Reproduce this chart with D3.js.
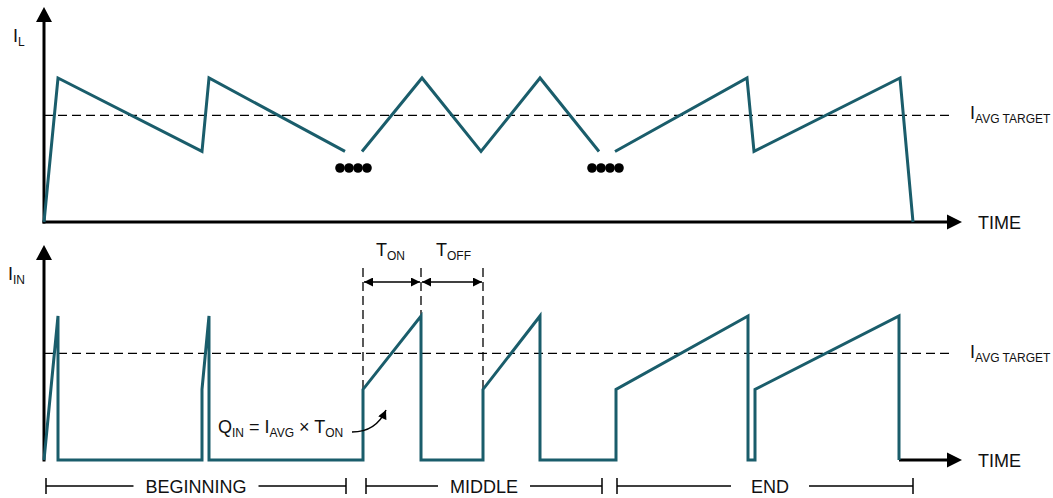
<!DOCTYPE html>
<html>
<head>
<meta charset="utf-8">
<script src="https://cdn.jsdelivr.net/npm/d3@7/dist/d3.min.js"></script>
<style>
  html, body { margin: 0; padding: 0; background: #fff; }
  svg { display: block; }
  text { font-family: "Liberation Sans", Arial, Helvetica, sans-serif; fill: #111; }
</style>
</head>
<body>
<svg id="chart" width="1053" height="498"></svg>
<script>
// ---- Data (time in arbitrary units, current normalised to peak = 1) ----
// Inductor current I_L: three segments, separated by "…" breaks
const ilSegments = [
  [[0, 0], [1.4, 1.0], [15.8, 0.49], [16.5, 1.0], [30.1, 0.49]],
  [[31.8, 0.49], [37.8, 1.0], [43.7, 0.49], [49.6, 1.0], [55.5, 0.49]],
  [[57.1, 0.49], [70.3, 1.0], [71.0, 0.49], [85.6, 1.0], [86.9, 0]]
];
// Input current I_IN
const iinPoints = [
  [0, 0], [1.4, 1.0], [1.4, 0], [15.8, 0], [15.8, 0.49], [16.5, 1.0], [16.5, 0],
  [31.9, 0], [31.9, 0.49], [37.7, 1.0], [37.7, 0],
  [43.9, 0], [43.9, 0.49], [49.6, 1.0], [49.6, 0],
  [57.2, 0], [57.2, 0.49], [70.4, 1.0], [70.4, 0],
  [71.1, 0], [71.1, 0.49], [85.5, 1.0], [85.5, 0]
];
const avgTarget = 0.74;
// Break dots ("••••") on the I_L trace
const breakDots = [29.6, 30.5, 31.4, 32.3, 54.8, 55.7, 56.6, 57.5];
const breakDotLevel = 0.375;
// T_ON / T_OFF markers
const tOnStart = 31.9, tOnEnd = 37.7, tOffEnd = 43.9;
// Operating phases
const phaseNames = ["BEGINNING", "MIDDLE", "END"];
const phaseStart = [0.2, 32.2, 57.3];
const phaseEnd = [30.2, 55.8, 86.9];

// ---- Layout ----
const teal = "#1a5d6b";
const svg = d3.select("#chart");

const x = d3.scaleLinear().domain([0, 91.8]).range([44, 962]);
const yTop = d3.scaleLinear().domain([0, 1.5]).range([222, 6]);
const yBot = d3.scaleLinear().domain([0, 1.5]).range([460, 244]);

const defs = svg.append("defs");
defs.append("marker")
  .attr("id", "head").attr("viewBox", "0 0 10 10")
  .attr("refX", 10).attr("refY", 5)
  .attr("markerWidth", 10).attr("markerHeight", 9)
  .attr("markerUnits", "userSpaceOnUse")
  .attr("orient", "auto-start-reverse")
  .append("path").attr("d", "M0,0 L10,5 L0,10 Z").attr("fill", "#000");

// Axis with arrow heads
function drawAxes(y, xAxisFrom) {
  const x0 = x(0), y0 = y(0), yTopPx = y(1.5) + 1;
  svg.append("line").attr("x1", x0).attr("y1", y0 + 1.5).attr("x2", x0).attr("y2", yTopPx + 12)
    .attr("stroke", "#000").attr("stroke-width", 3);
  svg.append("path").attr("d", `M${x0},${yTopPx} L${x0 - 8},${yTopPx + 15} L${x0 + 8},${yTopPx + 15} Z`).attr("fill", "#000");
  const xEnd = 962;
  svg.append("line").attr("x1", xAxisFrom).attr("y1", y0).attr("x2", xEnd - 13).attr("y2", y0)
    .attr("stroke", "#000").attr("stroke-width", 3);
  svg.append("path").attr("d", `M${xEnd},${y0} L${xEnd - 15},${y0 - 7.5} L${xEnd - 15},${y0 + 7.5} Z`).attr("fill", "#000");
  svg.append("text").attr("x", 978).attr("y", y0 + 6.5).attr("font-size", 18).text("TIME");
}

drawAxes(yTop, x(0) - 1.5);
drawAxes(yBot, x(iinPoints[iinPoints.length - 1][0]));

// Axis labels with subscripts
function subLabel(px, py, main, sub, size, subSize) {
  const t = svg.append("text").attr("x", px).attr("y", py).attr("font-size", size);
  t.append("tspan").text(main);
  t.append("tspan").attr("font-size", subSize).attr("dy", 4).text(sub);
  return t;
}
subLabel(13, 42, "I", "L", 18, 12);
subLabel(8, 280, "I", "IN", 18, 12);
subLabel(970, 119, "I", "AVG TARGET", 18, 12);
subLabel(970, 358, "I", "AVG TARGET", 18, 12);

// Average-target dashed lines
svg.append("line").attr("x1", x(0)).attr("x2", 950).attr("y1", yTop(avgTarget)).attr("y2", yTop(avgTarget))
  .attr("stroke", "#000").attr("stroke-width", 1.3).attr("stroke-dasharray", "9,5");
svg.append("line").attr("x1", x(0)).attr("x2", 952).attr("y1", yBot(avgTarget)).attr("y2", yBot(avgTarget))
  .attr("stroke", "#000").attr("stroke-width", 1.3).attr("stroke-dasharray", "9,5");

// T_ON / T_OFF dashed markers
[tOnStart, tOnEnd, tOffEnd].forEach(t => {
  svg.append("line").attr("x1", x(t)).attr("x2", x(t)).attr("y1", 268).attr("y2", yBot(0))
    .attr("stroke", "#000").attr("stroke-width", 1.3).attr("stroke-dasharray", "9,5");
});
[[tOnStart, tOnEnd], [tOnEnd, tOffEnd]].forEach(([a, b]) => {
  svg.append("line").attr("x1", x(a) + 1).attr("x2", x(b) - 1).attr("y1", 282).attr("y2", 282)
    .attr("stroke", "#000").attr("stroke-width", 1.5)
    .attr("marker-start", "url(#head)").attr("marker-end", "url(#head)");
});
subLabel(376, 256, "T", "ON", 18, 12);
subLabel(436, 256, "T", "OFF", 18, 12);

// Waveforms
const lineTop = d3.line().x(d => x(d[0])).y(d => yTop(d[1]));
const lineBot = d3.line().x(d => x(d[0])).y(d => yBot(d[1]));
ilSegments.forEach(seg => {
  svg.append("path").attr("d", lineTop(seg)).attr("fill", "none")
    .attr("stroke", teal).attr("stroke-width", 3).attr("stroke-linejoin", "miter");
});
svg.append("path").attr("d", lineBot(iinPoints)).attr("fill", "none")
  .attr("stroke", teal).attr("stroke-width", 3).attr("stroke-linejoin", "miter");

svg.selectAll("circle.dot").data(breakDots).join("circle")
  .attr("class", "dot").attr("cx", d => x(d)).attr("cy", yTop(breakDotLevel)).attr("r", 4.8).attr("fill", "#000");

// Q_IN annotation
const q = svg.append("text").attr("x", 218).attr("y", 433).attr("font-size", 18);
q.append("tspan").text("Q");
q.append("tspan").attr("font-size", 12).attr("dy", 4).text("IN");
q.append("tspan").attr("dy", -4).text(" = I");
q.append("tspan").attr("font-size", 12).attr("dy", 4).text("AVG");
q.append("tspan").attr("dy", -4).text(" × T");
q.append("tspan").attr("font-size", 12).attr("dy", 4).text("ON");
svg.append("path").attr("d", "M352,432 Q376,432 386,410").attr("fill", "none")
  .attr("stroke", "#000").attr("stroke-width", 1.5).attr("marker-end", "url(#head)");

// Phase brackets
phaseNames.forEach((name, i) => {
  const a = x(phaseStart[i]), b = x(phaseEnd[i]), cy = 486;
  const mid = (a + b) / 2 + (name === "END" ? 5 : 0);
  const t = svg.append("text").attr("x", mid).attr("y", cy + 6.5).attr("font-size", 18)
    .attr("text-anchor", "middle").text(name);
  const w = t.node().getComputedTextLength();
  const pad = name === "END" ? 20 : 12;
  const g = svg.append("g").attr("stroke", "#000").attr("stroke-width", 1.5);
  g.append("line").attr("x1", a).attr("x2", mid - w / 2 - pad).attr("y1", cy).attr("y2", cy);
  g.append("line").attr("x1", mid + w / 2 + pad).attr("x2", b).attr("y1", cy).attr("y2", cy);
  g.append("line").attr("x1", a).attr("x2", a).attr("y1", cy - 8).attr("y2", cy + 8);
  g.append("line").attr("x1", b).attr("x2", b).attr("y1", cy - 8).attr("y2", cy + 8);
});
</script>
</body>
</html>
